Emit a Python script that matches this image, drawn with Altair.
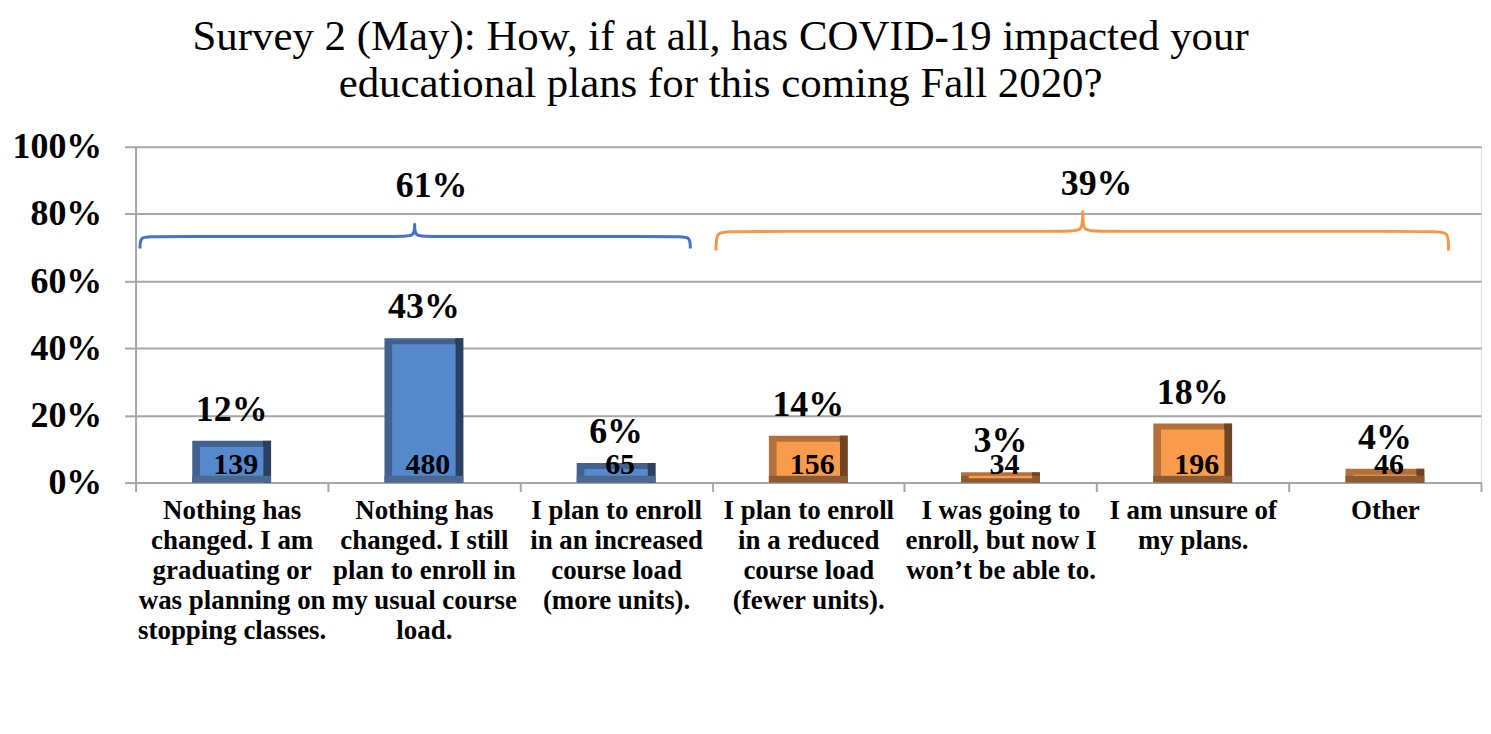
import altair as alt
import pandas as pd

FONT = "Liberation Serif"

# ---- data ----
categories = [
    "Nothing has|changed. I am|graduating or|was planning on|stopping classes.",
    "Nothing has|changed. I still|plan to enroll in|my usual course|load.",
    "I plan to enroll|in an increased|course load|(more units).",
    "I plan to enroll|in a reduced|course load|(fewer units).",
    "I was going to|enroll, but now I|won\u2019t be able to.",
    "I am unsure of|my plans.",
    "Other",
]
counts = [139, 480, 65, 156, 34, 196, 46]
pct_labels = ["12%", "43%", "6%", "14%", "3%", "18%", "4%"]
groups = ["same", "same", "same", "changed", "changed", "changed", "changed"]

# group totals (brace annotations), positions in category units / percent units
group_names = ["same", "changed"]
group_labels = ["61%", "39%"]
group_label_x = [1.54, 5.0]
group_label_y = [88.4, 89.0]

# brace outlines (category units along x, percent along y)
brace_blue_x = [0.023, 0.023, 0.09, 1.39, 1.452, 1.452, 1.452, 1.452, 1.452, 1.51, 2.82, 2.886, 2.886]
brace_blue_y = [69.7, 73.3, 73.3, 73.3, 73.3, 77.2, 77.2, 77.2, 73.3, 73.3, 73.3, 73.3, 69.7]
brace_orange_x = [3.02, 3.02, 3.09, 4.865, 4.928, 4.928, 4.928, 4.928, 4.928, 4.99, 6.765, 6.831, 6.831]
brace_orange_y = [69.1, 74.8, 74.8, 74.8, 74.8, 81.0, 81.0, 81.0, 74.8, 74.8, 74.8, 74.8, 69.1]

# ---- colours ----
face_col = ["#5689CC", "#F99B4C"]
left_col = ["#41628F", "#B4703A"]
right_col = ["#2B3F5E", "#6E4424"]
bottom_col = ["#4A6890", "#8C5B33"]
brace_col = ["#4472C4", "#F79646"]
GRID = "#A6A6A6"

df = pd.DataFrame({"cat": categories, "count": counts, "pct": pct_labels, "group": groups})
gdf = pd.DataFrame({"group": group_names, "label": group_labels, "gx": group_label_x, "gy": group_label_y})
rows = []
for name, xs, ys in (("same", brace_blue_x, brace_blue_y), ("changed", brace_orange_x, brace_orange_y)):
    for i, (bx, by) in enumerate(zip(xs, ys)):
        rows.append({"group": name, "i": i, "bx": bx, "by": by})
bdf = pd.DataFrame(rows)

yscale = alt.Scale(domain=[0, 100], nice=False)


def gcolor(rng):
    return alt.Color("group:N", scale=alt.Scale(domain=group_names, range=rng), legend=None)


base = alt.Chart(df).transform_joinaggregate(total="sum(count)").transform_calculate(
    share="100 * datum.count / datum.total"
)

x_enc = alt.X(
    "cat:N",
    sort=categories,
    title=None,
    scale=alt.Scale(paddingInner=0, paddingOuter=0),
    axis=alt.Axis(
        labelExpr="split(datum.label, '|')",
        labelAngle=0,
        labelFont=FONT,
        labelFontSize=27,
        labelFontWeight="bold",
        labelColor="black",
        labelLineHeight=30,
        labelPadding=6,
        labelLimit=400,
        labelBaseline="top",
        tickBand="extent",
        tickSize=9,
        tickColor=GRID,
        tickWidth=2,
        domainColor=GRID,
        domainWidth=2,
        grid=False,
    ),
)
y_enc = alt.Y(
    "share:Q",
    scale=yscale,
    title=None,
    axis=alt.Axis(
        values=[0, 20, 40, 60, 80, 100],
        labelExpr="datum.value + '%'",
        labelFont=FONT,
        labelFontSize=36,
        labelFontWeight="bold",
        labelColor="black",
        labelPadding=23,
        tickSize=11,
        tickColor=GRID,
        tickWidth=2,
        domainColor=GRID,
        domainWidth=2,
        grid=True,
        gridColor=GRID,
        gridWidth=2,
    ),
)

bar_w = 0.41
full = base.mark_bar(width=alt.RelativeBandSize(bar_w)).encode(x=x_enc, y=y_enc, color=gcolor(left_col))
right = base.mark_bar(width=8, xOffset=35.5).encode(x=x_enc, y=y_enc, color=gcolor(right_col))
bottom = base.mark_bar(width=alt.RelativeBandSize(bar_w), yOffset=-7).encode(
    x=x_enc, y=alt.datum(0), y2=alt.datum(0), color=gcolor(bottom_col)
)
face = base.mark_bar(width=alt.RelativeBandSize(0.33), yOffset=6, y2Offset=-7).encode(
    x=x_enc, y=y_enc, y2=alt.datum(0), color=gcolor(face_col)
)
pct_text = base.mark_text(
    font=FONT, fontSize=36, fontWeight="bold", baseline="alphabetic", dy=-20, color="black"
).encode(x=x_enc, y=y_enc, text="pct:N")
cnt_text = base.mark_text(
    font=FONT, fontSize=30, fontWeight="bold", baseline="alphabetic", dy=-9, dx=4, color="black"
).encode(x=x_enc, y=alt.datum(0), text="count:N")

bars = alt.layer(full, right, bottom, face, pct_text, cnt_text).resolve_scale(color="independent")

qx = alt.Scale(domain=[0, 7], nice=False, zero=False)
braces = alt.Chart(bdf).mark_line(interpolate="basis", strokeWidth=3).encode(
    x=alt.X("bx:Q", scale=qx, axis=None),
    y=alt.Y("by:Q", scale=yscale, axis=None),
    order="i:Q",
    detail="group:N",
    color=gcolor(brace_col),
)
glabels = alt.Chart(gdf).mark_text(
    font=FONT, fontSize=36, fontWeight="bold", baseline="middle", color="black"
).encode(
    x=alt.X("gx:Q", scale=qx, axis=None),
    y=alt.Y("gy:Q", scale=yscale, axis=None),
    text="label:N",
)
annot = alt.layer(braces, glabels)

chart = (
    alt.layer(bars, annot)
    .resolve_scale(x="independent", color="independent")
    .resolve_axis(y="independent")
    .properties(
        width=1350,
        height=337,
        padding={"left": 128, "top": 138, "right": 2, "bottom": 240},
        autosize=alt.AutoSizeParams(type="none"),
        title=alt.Title(
            ["Survey 2 (May): How, if at all, has COVID-19 impacted your",
             "educational plans for this coming Fall 2020?"],
            font=FONT,
            fontSize=43,
            fontWeight="normal",
            color="black",
            anchor="middle",
            dx=-88,
            offset=23,
            lineHeight=47,
        ),
    )
    .configure_view(stroke=GRID, strokeWidth=2)
    .configure(background="white")
)

chart.save("out.html", embed_options={"renderer": "svg", "actions": False})
